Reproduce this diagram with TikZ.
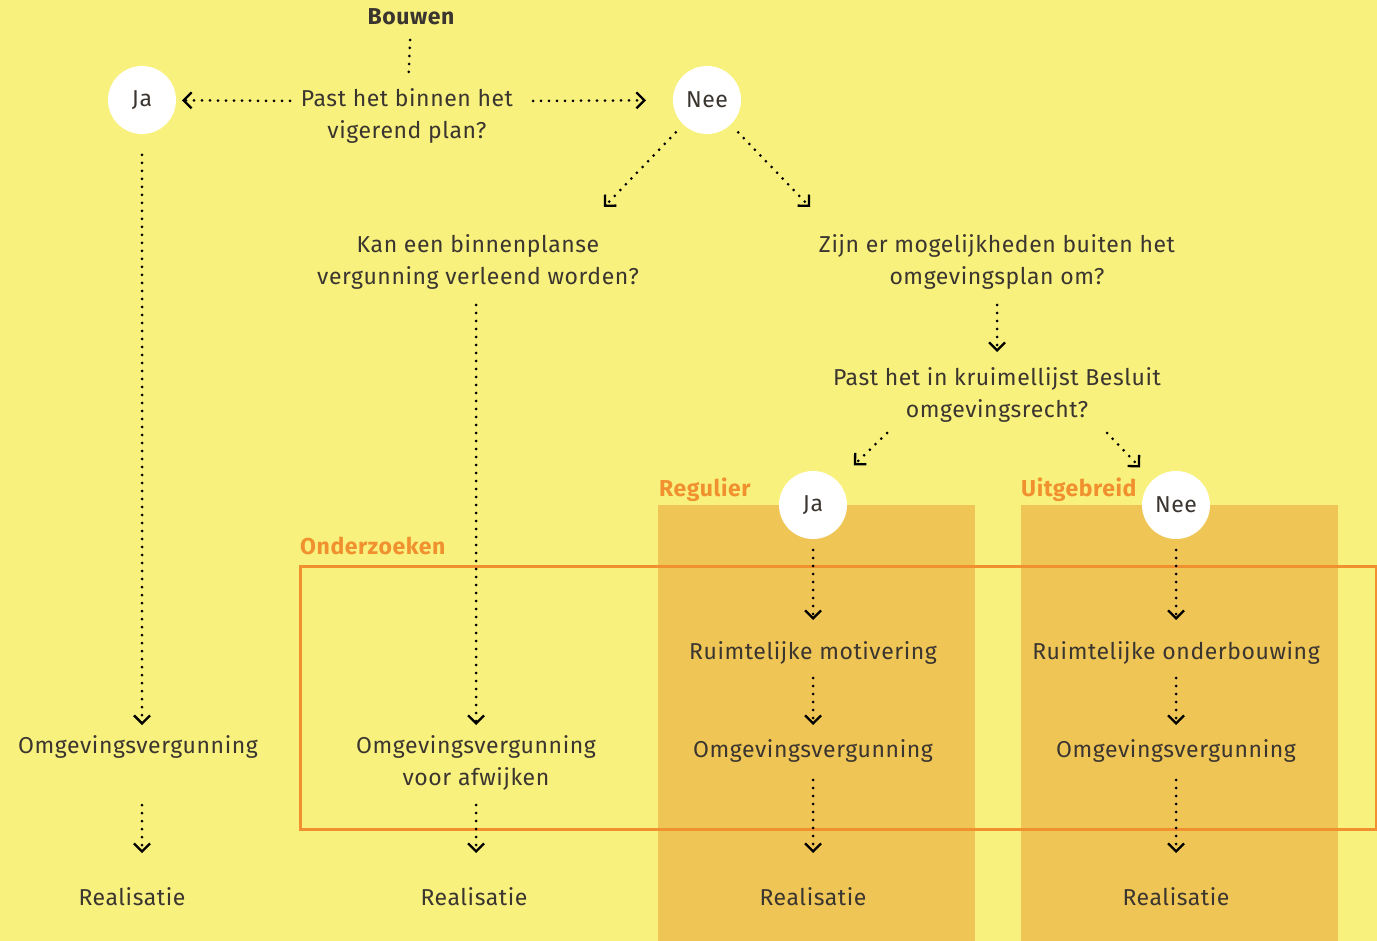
\documentclass[tikz,border=0pt]{standalone}
\usepackage{fontspec}
\setmainfont{Fira Sans}[LetterSpace=2.5]
\usetikzlibrary{arrows.meta, positioning}
\definecolor{geel}{HTML}{F8F17E}
\definecolor{oker}{HTML}{EFC656}
\definecolor{oranje}{HTML}{F0902F}
\definecolor{tekst}{HTML}{3B3530}

\begin{document}
\begin{tikzpicture}[x=1pt, y=-1pt,
    antwoord/.style={circle, fill=white, minimum size=68pt, inner sep=0pt, text=tekst, font=\fontsize{23}{32}\selectfont},
    vraag/.style={align=center, text=tekst, font=\fontsize{23}{32}\selectfont, inner sep=2pt},
    kop/.style={font=\bfseries\fontsize{23}{28}\selectfont, inner sep=0pt},
    stip/.style={line width=3pt, dash pattern=on 0pt off 8pt, line cap=round},
    pijl/.style={stip, -{Straight Barb[length=8pt, width=16pt, line width=2.3pt]}}
]
    \useasboundingbox (0,0) rectangle (1377,941);
    \fill[geel] (0,0) rectangle (1377,941);

    % kolommen regulier en uitgebreid
    \fill[oker] (658,505) rectangle (975,941);
    \fill[oker] (1021,505) rectangle (1338,941);
    \draw[oranje, line width=3pt] (300,566) rectangle (1376,829);

    \node[kop, text=tekst] (Bouwen) at (411,17) {Bouwen};
    \node[kop, text=oranje, anchor=west] (Regulier) at (659,490) {Regulier};
    \node[kop, text=oranje, anchor=west] (Uitgebreid) at (1021,490) {Uitgebreid};
    \node[kop, text=oranje, anchor=west] (Onderzoeken) at (300,546) {Onderzoeken};

    \node[vraag] (Q1) at (407,116) {Past het binnen het\\vigerend plan?};
    \node[antwoord] (Ja1) at (142,100) {Ja};
    \node[antwoord] (Nee1) at (707,100) {Nee};
    \node[vraag] (Q2) at (478,262) {Kan een binnenplanse\\vergunning verleend worden?};
    \node[vraag] (Q3) at (997,262) {Zijn er mogelijkheden buiten het\\omgevingsplan om?};
    \node[vraag] (Q4) at (997,395) {Past het in kruimellijst Besluit\\omgevingsrecht?};
    \node[antwoord] (Ja2) at (813,505) {Ja};
    \node[antwoord] (Nee2) at (1176,505) {Nee};

    \node[vraag] (Ov1) at (138,747) {Omgevingsvergunning};
    \node[vraag] (Ov2) at (476,763) {Omgevingsvergunning\\voor afwijken};
    \node[vraag] (Rm) at (813,653) {Ruimtelijke motivering};
    \node[vraag] (Ro) at (1176,653) {Ruimtelijke onderbouwing};
    \node[vraag] (Ov3) at (813,751) {Omgevingsvergunning};
    \node[vraag] (Ov4) at (1176,751) {Omgevingsvergunning};

    \node[vraag] (R1) at (132,897) {Realisatie};
    \node[vraag] (R2) at (474,897) {Realisatie};
    \node[vraag] (R3) at (813,897) {Realisatie};
    \node[vraag] (R4) at (1176,897) {Realisatie};

    % losse eindpunten
    \coordinate (q1l) at (290,101);
    \coordinate (q1r) at (533,101);
    \coordinate (q2) at (604,207);
    \coordinate (q3) at (810,207);
    \coordinate (q4l) at (887,433);
    \coordinate (q4r) at (1107,433);

    \draw[stip, shorten <=23pt, shorten >=41pt] (Bouwen.center) -- (Q1.center);
    \draw[pijl, shorten >=40pt] (q1l) -- (Ja1.center);
    \draw[pijl, shorten >=61pt] (q1r) -- (Nee1.center);
    \draw[pijl, shorten <=45pt] (Nee1.center) -- (q2);
    \draw[pijl, shorten <=45pt] (Nee1.center) -- (q3);
    \draw[pijl, shorten <=43pt] (Q3.center) -- ++(0,90) coordinate (q3b);
    \draw[pijl, shorten >=57pt] (q4l) -- (Ja2.center);
    \draw[pijl, shorten >=52pt] (q4r) -- (Nee2.center);

    \draw[pijl, shorten <=55pt, shorten >=22pt] (Ja1.center) -- (Ja1.center |- Ov1.center);
    \draw[pijl, shorten <=58pt, shorten >=44pt] (Ja1.center |- Ov1.center) -- (Ja1.center |- R1.center);
    \draw[pijl, shorten <=43pt, shorten >=38pt] (Q2.center -| Ov2.center) -- (Ov2.center);
    \draw[pijl, shorten <=42pt, shorten >=44pt] (Ov2.center) -- (Ov2.center |- R2.center);

    \foreach \a/\b/\c/\d in {Ja2/Rm/Ov3/R3, Nee2/Ro/Ov4/R4} {
        \draw[pijl, shorten <=45pt, shorten >=33pt] (\a.center) -- (\b.center);
        \draw[pijl, shorten <=25pt, shorten >=26pt] (\b.center) -- (\c.center);
        \draw[pijl, shorten <=29pt, shorten >=44pt] (\c.center) -- (\d.center);
    }
\end{tikzpicture}
\end{document}
